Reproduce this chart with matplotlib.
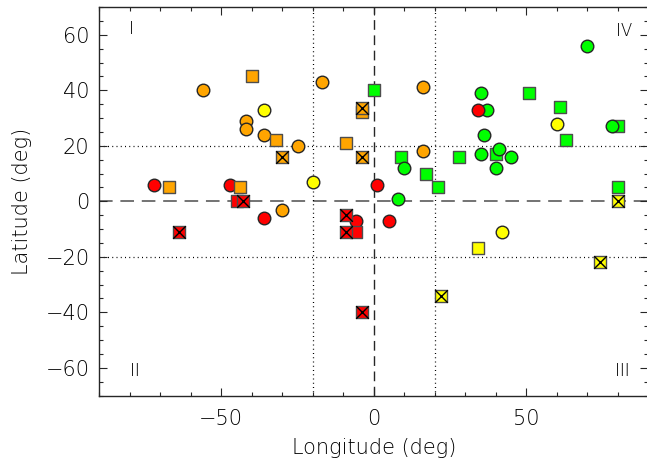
import matplotlib
matplotlib.use("Agg")
import matplotlib.pyplot as plt
from matplotlib.ticker import MultipleLocator

# circles (lon, lat) per colour
red_circ_lon = [-72, -47, -36, -6, 5, 1, 34]
red_circ_lat = [6, 6, -6, -7, -7, 6, 33]
orange_circ_lon = [-56, -42, -42, -36, -25, -17, 16, 16, -30]
orange_circ_lat = [40, 29, 26, 24, 20, 43, 41, 18, -3]
yellow_circ_lon = [-36, -20, 60, 42]
yellow_circ_lat = [33, 7, 28, -11]
green_circ_lon = [35, 37, 36, 35, 41, 45, 40, 10, 8, 70, 78]
green_circ_lat = [39, 33, 24, 17, 19, 16, 12, 12, 1, 56, 27]

# plain squares
red_sq_lon = [-45, -6]
red_sq_lat = [0, -11]
orange_sq_lon = [-40, -32, -67, -44, -9, -4]
orange_sq_lat = [45, 22, 5, 5, 21, 32]
yellow_sq_lon = [34]
yellow_sq_lat = [-17]
green_sq_lon = [0, 9, 28, 17, 21, 51, 61, 63, 80, 40, 80]
green_sq_lat = [40, 16, 16, 10, 5, 39, 34, 22, 27, 17, 5]

# crossed squares
red_x_lon = [-43, -64, -9, -9, -4]
red_x_lat = [0, -11, -5, -11, -40]
orange_x_lon = [-30, -4, -4]
orange_x_lat = [16, 16, 33.5]
yellow_x_lon = [80, 22, 74]
yellow_x_lat = [0, -34, -22]

RED = "#ff0000"
ORANGE = "#ffa500"
YELLOW = "#ffff00"
GREEN = "#00ff00"

plt.rcParams['font.family'] = ['DejaVu Sans']
plt.rcParams['font.weight'] = 'light'
plt.rcParams['axes.labelweight'] = 'light'
fig = plt.figure(figsize=(6.47, 4.66), dpi=100)
ax = fig.add_axes([99.3 / 647, 1 - 395.6 / 466, 549 / 647, 388.6 / 466])

# reference lines
ax.axhline(0, color="0.45", lw=1.4, dashes=(7, 4), zorder=1)
ax.axvline(0, color="0.15", lw=1.0, dashes=(7, 4), zorder=1)
for v in (-20, 20):
    ax.axvline(v, color="k", lw=0.9, dashes=(0.8, 2.6), zorder=1)
    ax.axhline(v, color="k", lw=0.9, dashes=(0.8, 2.6), zorder=1)

S = 82
def squares(lon, lat, col, z=3):
    ax.scatter(lon, lat, s=S, marker="s", facecolor=col, edgecolor="0.3", linewidth=1.0, zorder=z)

def circles(lon, lat, col, z=3):
    ax.scatter(lon, lat, s=S, marker="o", facecolor=col, edgecolor="0.15", linewidth=1.0, zorder=z)

def crossed(lon, lat, col, z=4):
    ax.scatter(lon, lat, s=S, marker="s", facecolor=col, edgecolor="0.3", linewidth=1.0, zorder=z)
    ax.scatter(lon, lat, s=S, marker="x", color="k", linewidth=1.0, zorder=z)

squares(green_sq_lon, green_sq_lat, GREEN)
circles(green_circ_lon, green_circ_lat, GREEN)
circles(red_circ_lon, red_circ_lat, RED)
circles(orange_circ_lon, orange_circ_lat, ORANGE)
circles(yellow_circ_lon, yellow_circ_lat, YELLOW)
squares(red_sq_lon, red_sq_lat, RED)
squares(orange_sq_lon, orange_sq_lat, ORANGE)
squares(yellow_sq_lon, yellow_sq_lat, YELLOW)
crossed(red_x_lon, red_x_lat, RED)
crossed(orange_x_lon, orange_x_lat, ORANGE)
crossed(yellow_x_lon, yellow_x_lat, YELLOW)

# quadrant labels
qfont = dict(fontsize=12, color="k", ha="center", va="center")
ax.text(-79.5, 62, "I", **qfont)
ax.text(-78.5, -61.2, "II", **qfont)
ax.text(81.5, -61.2, "III", **qfont)
ax.text(82, 61.5, "IV", **qfont)

ax.set_xlim(-90, 90)
ax.set_ylim(-70, 70)
ax.xaxis.set_major_locator(MultipleLocator(50))
ax.xaxis.set_minor_locator(MultipleLocator(10))
ax.yaxis.set_major_locator(MultipleLocator(20))
ax.yaxis.set_minor_locator(MultipleLocator(5))
ax.tick_params(which="both", direction="in", top=True, right=True, color="0.15", width=0.8,
               labelsize=15, labelcolor="k")
ax.tick_params(which="major", length=6)
ax.tick_params(which="minor", length=3)
ax.tick_params(axis="x", which="major", pad=10)
ax.tick_params(axis="y", which="major", pad=7)
for sp in ax.spines.values():
    sp.set_color("0.15")
    sp.set_linewidth(1.0)

ax.set_xlabel("Longitude (deg)", fontsize=15, color="k", fontweight="light")
ax.set_ylabel("Latitude (deg)", fontsize=15, color="k", fontweight="light")
ax.xaxis.set_label_coords(0.5, -0.108)
ax.yaxis.set_label_coords(-0.122, 0.5)

fig.savefig("out.png", dpi=100)
